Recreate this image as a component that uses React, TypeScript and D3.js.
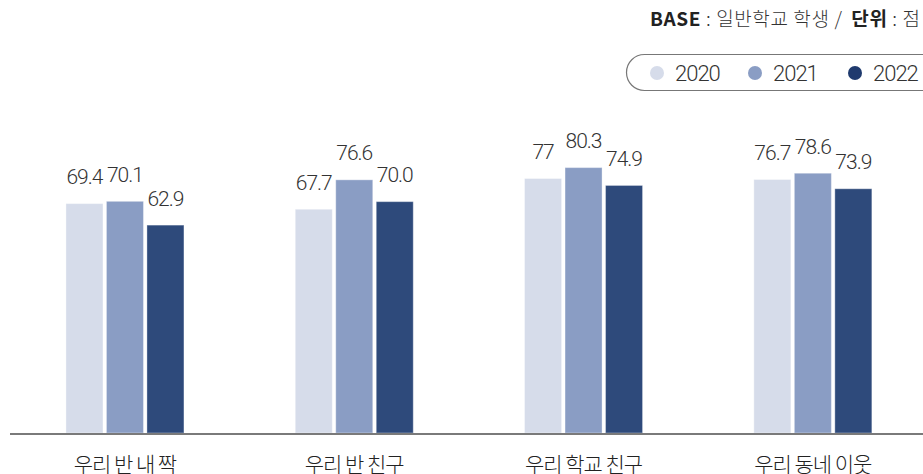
import React from "react";
import * as d3 from "d3";

const categories = ["우리 반 내 짝", "우리 반 친구", "우리 학교 친구", "우리 동네 이웃"];
const seriesNames = ["2020", "2021", "2022"];
const values2020 = [69.4, 67.7, 77, 76.7];
const values2021 = [70.1, 76.6, 80.3, 78.6];
const values2022 = [62.9, 70.0, 74.9, 73.9];
const labels2020 = ["69.4", "67.7", "77", "76.7"];
const labels2021 = ["70.1", "76.6", "80.3", "78.6"];
const labels2022 = ["62.9", "70.0", "74.9", "73.9"];
const colors = ["#d6dcea", "#8a9dc4", "#2e4a7b"];
const legendColors = ["#d6dcea", "#8a9dc4", "#1f3a6e"];

const W = 923;
const H = 474;
const FONT = "Roboto, 'Noto Sans CJK KR', sans-serif";
const KFONT = "'Noto Sans CJK KR', 'Noto Sans', sans-serif";

export default function App() {
  const series = [values2020, values2021, values2022];
  const labels = [labels2020, labels2021, labels2022];
  const x0 = d3.scaleBand<string>().domain(categories).range([10.3, 927.5]).padding(0);
  const x1 = d3.scaleBand<string>().domain(seriesNames).range([0, 118]).paddingInner(0.086).paddingOuter(0);
  const y = d3.scaleLinear().domain([0, 100]).range([433, 102.5]);
  const groupOff = (x0.bandwidth() - 118) / 2;

  const legendX = [657, 755, 855];
  return (
    <svg width={W} height={H} style={{ position: "absolute", left: 0, top: 0, background: "#fff" }}>
      {/* header */}
      <text x={650} y={26} fontFamily={KFONT} fontSize={19} fill="#333" textLength={270} lengthAdjust="spacing">
        <tspan fontWeight="bold" fill="#222">BASE</tspan>
        <tspan fontWeight={300}> : 일반학교 학생 / </tspan>
        <tspan fontWeight="bold" fill="#222" dx={4}>단위</tspan>
        <tspan fontWeight={300}> : 점</tspan>
      </text>
      {/* legend */}
      <rect x={626.5} y={54.5} width={340} height={36} rx={18} ry={18} fill="#fff" stroke="#777" strokeWidth={1.2} />
      {seriesNames.map((s, i) => (
        <g key={s}>
          <circle cx={legendX[i]} cy={73} r={7} fill={legendColors[i]} />
          <text x={legendX[i] + 18} y={81} fontFamily={FONT} fontSize={22} fontWeight={300} letterSpacing={-1} fill="#333">
            {s}
          </text>
        </g>
      ))}
      {/* bars */}
      {categories.map((c, ci) => (
        <g key={c} transform={`translate(${(x0(c) as number) + groupOff},0)`}>
          {seriesNames.map((s, si) => {
            const v = series[si][ci];
            const bx = x1(s) as number;
            return (
              <g key={s}>
                <rect
                  x={bx}
                  y={y(v)}
                  width={x1.bandwidth()}
                  height={y(0) - y(v)}
                  fill={colors[si]}
                  stroke="rgba(255,255,255,0.35)"
                  strokeWidth={1}
                />
                <text
                  x={bx + x1.bandwidth() / 2}
                  y={y(v) - 19.5}
                  textAnchor="middle"
                  fontFamily={FONT}
                  fontSize={21}
                  fontWeight={300}
                  letterSpacing={-1}
                  fill="#333"
                >
                  {labels[si][ci]}
                </text>
              </g>
            );
          })}
        </g>
      ))}
      {/* axis */}
      <line x1={10} x2={923} y1={434} y2={434} stroke="#7a7a7a" strokeWidth={2} />
      {categories.map((c) => (
        <text
          key={c}
          x={(x0(c) as number) + x0.bandwidth() / 2}
          y={472}
          textAnchor="middle"
          fontFamily={KFONT}
          fontSize={21}
          fontWeight={300}
          fill="#222"
          letterSpacing={-1}
        >
          {c}
        </text>
      ))}
    </svg>
  );
}
